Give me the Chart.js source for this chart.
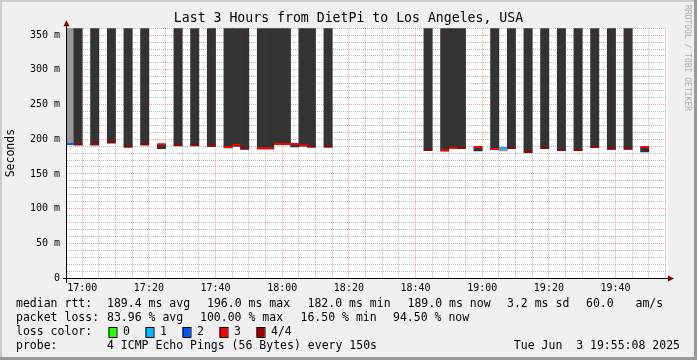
<!DOCTYPE html>
<html>
<head>
<meta charset="utf-8">
<script src="https://cdn.jsdelivr.net/npm/chart.js@4.4.1/dist/chart.umd.min.js"></script>
<style>
  html, body { margin: 0; padding: 0; background: #f0f0f0; }
</style>
</head>
<body>
<canvas id="smokeChart" width="697" height="360"></canvas>
<script>
// time in seconds since midnight, one slot every 150 s
const graphStart = 60908;   // 16:55:08
const graphEnd = 71708;     // 19:55:08
const firstSlot = 60900;    // 16:55:00
const stepSec = 150;

const slotIndex = [0, 1, 3, 5, 7, 9, 11, 13, 15, 17, 19, 20, 21, 23, 24, 25, 26, 27, 28, 29, 31,
                   43, 45, 46, 47, 49, 51, 52, 53, 55, 57, 59, 61, 63, 65, 67, 69];
const medianMs = [193.2, 193.0, 193.0, 196.0, 189.6, 193.0, 192.8, 191.8, 191.8, 190.8, 189.0, 191.8, 187.0,
                  187.0, 187.0, 193.2, 193.2, 193.0, 191.5, 189.6, 189.6,
                  184.6, 183.9, 187.5, 187.5, 189.0, 186.0, 187.5, 187.5, 182.0, 187.5, 184.6, 184.6,
                  189.0, 186.8, 186.8, 189.0];
const lostPings = [2, 4, 4, 4, 4, 4, 3, 4, 4, 4, 3, 3, 4, 3, 3, 3, 3, 3, 3, 4, 4,
                   4, 3, 3, 4, 3, 3, 1, 4, 4, 4, 4, 4, 4, 4, 4, 3];
const smokeLowMs = [192.0, 191.5, 191.5, 194.5, 188.5, 191.5, 186.5, 190.5, 190.5, 189.5, 187.5, 189.5, 185.5,
                    186.0, 186.0, 192.0, 192.0, 189.0, 190.0, 188.5, 188.5,
                    183.5, 183.0, 186.5, 186.5, 183.0, 185.0, 183.0, 186.5, 180.5, 186.5, 183.5, 183.5,
                    188.0, 185.5, 185.5, 181.7];
const smokeHighMs = [400, 400, 400, 400, 400, 400, 192.8, 400, 400, 400, 400, 400, 400,
                     400, 400, 400, 400, 193.0, 400, 400, 400,
                     400, 400, 400, 400, 189.0, 400, 187.5, 400, 400, 400, 400, 400,
                     400, 400, 400, 189.0];

const xTickLabels = ['17:00', '17:20', '17:40', '18:00', '18:20', '18:40', '19:00', '19:20', '19:40'];
const yTickLabels = ['0', '50 m', '100 m', '150 m', '200 m', '250 m', '300 m', '350 m'];

const lossLabels = ['0', '1', '2', '3', '4/4'];
const rttStats = ['189.4 ms avg', '196.0 ms max', '182.0 ms min', '189.0 ms now', '3.2 ms sd', '60.0', 'am/s'];
const lossStats = ['83.96 % avg', '100.00 % max', '16.50 % min', '94.50 % now'];
const probeText = '4 ICMP Echo Pings (56 Bytes) every 150s';
const stampText = 'Tue Jun  3 19:55:08 2025';

const lossColors = ['#26ff00', '#00b8ff', '#0059ff', '#ff0000', '#a10000'];
const majorGrid = 'rgba(235, 40, 40, 0.45)';
const minorGrid = 'rgba(120, 120, 120, 0.5)';
const FONT = "'DejaVu Sans Mono', monospace";

Chart.defaults.font.family = FONT;
Chart.defaults.color = '#000';

const slotCenter = slotIndex.map(k => firstSlot + k * stepSec + stepSec / 2);
const smokeData = slotCenter.map((t, i) => ({ x: t, y: [smokeLowMs[i], smokeHighMs[i]] }));
const medianData = slotCenter.map((t, i) => ({ x: t, y: medianMs[i] }));

// background, shade border and white canvas area
const backPlugin = {
  id: 'rrdBack',
  beforeDraw(chart) {
    const c = chart.ctx, a = chart.chartArea;
    const W = chart.width, H = chart.height;
    c.save();
    c.fillStyle = '#f0f0f0';
    c.fillRect(0, 0, W, H);
    c.fillStyle = '#cbcbcb';
    c.fillRect(0, 0, W, 2);
    c.fillRect(0, 0, 2, H);
    c.fillStyle = '#999999';
    c.fillRect(0, H - 3, W, 3);
    c.fillRect(W - 3, 0, 3, H);
    c.fillStyle = '#ffffff';
    c.fillRect(a.left, a.top, a.right - a.left + 2, a.bottom - a.top);
    c.restore();
  }
};

// axis arrows, watermark and the text legend below the graph
const legendPlugin = {
  id: 'rrdLegend',
  afterDraw(chart) {
    const c = chart.ctx, a = chart.chartArea;
    c.save();
    // axis extensions and arrows
    c.strokeStyle = '#000';
    c.lineWidth = 1;
    c.beginPath();
    c.moveTo(a.left + 0.5, a.top - 6); c.lineTo(a.left + 0.5, a.bottom + 5);
    c.moveTo(a.left - 3, a.bottom + 0.5); c.lineTo(a.right + 3, a.bottom + 0.5);
    c.stroke();
    c.fillStyle = '#7f0000';
    c.beginPath();
    c.moveTo(a.left + 0.5, a.top - 8); c.lineTo(a.left - 2.5, a.top - 2); c.lineTo(a.left + 3.5, a.top - 2);
    c.closePath(); c.fill();
    c.beginPath();
    c.moveTo(a.right + 8, a.bottom + 0.5); c.lineTo(a.right + 2, a.bottom - 2.5); c.lineTo(a.right + 2, a.bottom + 3.5);
    c.closePath(); c.fill();

    // watermark
    c.save();
    c.translate(687.5, 5);
    c.rotate(Math.PI / 2);
    c.font = '8px ' + FONT;
    c.fillStyle = '#aaaaaa';
    c.textAlign = 'left';
    c.textBaseline = 'middle';
    c.fillText('RRDTOOL / TOBI OETIKER', 0, 0);
    c.restore();

    // legend lines
    c.font = '11.5px ' + FONT;
    c.fillStyle = '#000';
    c.textBaseline = 'middle';
    c.textAlign = 'left';
    const rttX = [107, 207, 307.5, 407.5, 507, 586, 635.5];
    c.fillText('median rtt:', 16, 304);
    rttStats.forEach((s, i) => c.fillText(s, rttX[i], 304));
    const lossX = [107, 200, 300.5, 393];
    c.fillText('packet loss:', 16, 318);
    lossStats.forEach((s, i) => c.fillText(s, lossX[i], 318));
    c.fillText('loss color:', 16, 332);
    lossLabels.forEach((s, i) => {
      const bx = 108.5 + i * 37;
      c.fillStyle = lossColors[i];
      c.fillRect(bx, 327, 8, 10);
      c.strokeStyle = '#000';
      c.strokeRect(bx + 0.5, 327.5, 8, 10);
      c.fillStyle = '#000';
      c.fillText(s, bx + 14.5, 332);
    });
    c.fillText('probe:', 16, 346);
    c.fillText(probeText, 107, 346);
    c.textAlign = 'right';
    c.fillText(stampText, 680, 346);
    c.restore();
  }
};

const ctx = document.getElementById('smokeChart').getContext('2d');
const chart = new Chart(ctx, {
  type: 'bar',
  data: {
    datasets: [
      {
        type: 'line',
        label: 'median rtt',
        data: medianData,
        showLine: false,
        pointStyle: 'line',
        pointBorderWidth: 2,
        pointBorderColor: c => lossColors[lostPings[c.dataIndex]],
        pointBackgroundColor: c => lossColors[lostPings[c.dataIndex]],
        pointRadius: c => {
          const xs = c.chart.scales.x;
          return (xs.getPixelForValue(graphStart + stepSec) - xs.getPixelForValue(graphStart)) / 2;
        }
      },
      {
        type: 'bar',
        label: 'smoke',
        data: smokeData,
        backgroundColor: c => (lostPings[c.dataIndex] <= 2 ? '#969696' : '#333333'),
        borderWidth: 0,
        barPercentage: 1,
        categoryPercentage: 1,
        grouped: false
      }
    ]
  },
  options: {
    responsive: false,
    animation: false,
    events: [],
    layout: { padding: 0 },
    plugins: {
      legend: { display: false },
      tooltip: { enabled: false },
      title: {
        display: true,
        text: 'Last 3 Hours from DietPi to Los Angeles, USA',
        color: '#000',
        font: { size: 13.2, weight: 'normal' },
        padding: { top: 11, bottom: 1.4 }
      }
    },
    scales: {
      x: {
        type: 'linear',
        min: graphStart,
        max: graphEnd,
        bounds: 'data',
        offset: false,
        afterBuildTicks: s => {
          const ticks = [];
          for (let v = 61200; v <= graphEnd; v += 300) ticks.push({ value: v });
          s.ticks = ticks;
        },
        ticks: {
          autoSkip: false,
          maxRotation: 0,
          padding: 4,
          font: { size: 10 },
          callback: v => ((v - 61200) % 1200 === 0 ? xTickLabels[(v - 61200) / 1200] : '')
        },
        grid: {
          offset: false,
          drawTicks: false,
          color: c => ((c.tick.value - 61200) % 1200 === 0 ? majorGrid : minorGrid)
        },
        border: { color: '#000', width: 1, dash: [1, 1], z: 1 },
        afterFit: s => { s.height = 82; }
      },
      y: {
        type: 'linear',
        position: 'left',
        min: 0,
        max: 360,
        afterBuildTicks: s => {
          const ticks = [];
          for (let v = 0; v <= 360; v += 10) ticks.push({ value: v });
          s.ticks = ticks;
        },
        ticks: {
          autoSkip: false,
          padding: 6,
          font: { size: 10 },
          callback: v => (v % 50 === 0 ? yTickLabels[v / 50] : '')
        },
        grid: {
          drawTicks: false,
          color: c => (c.tick.value % 50 === 0 ? majorGrid : minorGrid)
        },
        border: { color: '#000', width: 1, dash: [1, 1], z: 1 },
        title: {
          display: true,
          text: 'Seconds',
          color: '#000',
          font: { size: 11.5 },
          padding: { top: 4, bottom: 0 }
        },
        afterFit: s => { s.width = 66; }
      },
      yR: {
        type: 'linear',
        position: 'right',
        display: true,
        grid: { display: false },
        ticks: { display: false },
        border: { display: false },
        afterFit: s => { s.width = 31; }
      }
    }
  },
  plugins: [backPlugin, legendPlugin]
});
</script>
</body>
</html>
